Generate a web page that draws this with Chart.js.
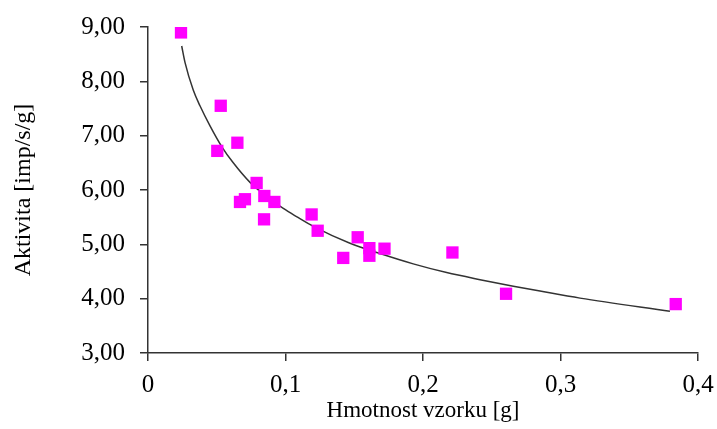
<!DOCTYPE html>
<html>
<head>
<meta charset="utf-8">
<script src="https://cdn.jsdelivr.net/npm/chart.js@4.4.0/dist/chart.umd.min.js"></script>
<style>
  html, body { margin: 0; padding: 0; background: #fff; }
  #wrap { width: 717px; height: 429px; }
</style>
</head>
<body>
<div id="wrap"><canvas id="chart" width="717" height="429"></canvas></div>
<script>
// measured samples: mass [g] vs activity [imp/s/g]
const massG = [0.024, 0.0529, 0.0504, 0.065, 0.079, 0.0669, 0.0705, 0.0846, 0.0919, 0.0844,
  0.119, 0.1234, 0.142, 0.1525, 0.161, 0.161, 0.172, 0.2214, 0.2604, 0.3838];
const activity = [8.90, 7.55, 6.72, 6.87, 6.13, 5.78, 5.83, 5.89, 5.78, 5.46,
  5.55, 5.25, 4.75, 5.13, 4.93, 4.79, 4.92, 4.85, 4.09, 3.90];

// trend curve
const trendX = [0.0245, 0.0269, 0.0329, 0.0378, 0.0451, 0.0536, 0.0620, 0.0742, 0.0863, 0.0984,
  0.1080, 0.1202, 0.1469, 0.1687, 0.1929, 0.2172, 0.2415, 0.2657, 0.2851, 0.3142, 0.3796];
const trendY = [8.65, 8.35, 7.84, 7.55, 7.18, 6.80, 6.50, 6.14, 5.88, 5.66,
  5.51, 5.33, 5.02, 4.83, 4.64, 4.48, 4.35, 4.23, 4.14, 4.01, 3.77];

const xTickLabels = ['0', '0,1', '0,2', '0,3', '0,4'];
const yTickLabels = ['3,00', '4,00', '5,00', '6,00', '7,00', '8,00', '9,00'];

const FONT = 'Liberation Serif, Times New Roman, serif';
const AXIS = '#333';

const points = massG.map((x, i) => ({ x, y: activity[i] }));
const trend = trendX.map((x, i) => ({ x, y: trendY[i] }));

// keep the plot box fixed, labels may hang over the padding
function fixBox(size) {
  return s => {
    if (s.isHorizontal()) s.height = size; else s.width = size;
    s.paddingLeft = s.paddingRight = s.paddingTop = s.paddingBottom = 0;
  };
}

new Chart(document.getElementById('chart'), {
  type: 'scatter',
  data: {
    datasets: [
      {
        label: 'trend',
        data: trend,
        showLine: true,
        borderColor: '#333',
        borderWidth: 1.5,
        pointRadius: 0,
        cubicInterpolationMode: 'monotone',
        order: 2
      },
      {
        label: 'vzorky',
        data: points,
        pointStyle: 'rect',
        pointRadius: 8.7,
        pointBorderWidth: 0,
        backgroundColor: '#ff00ff',
        borderColor: '#ff00ff',
        order: 1
      }
    ]
  },
  options: {
    responsive: false,
    animation: false,
    layout: { padding: { top: 27, right: 19, left: 0, bottom: 0 } },
    plugins: { legend: { display: false }, tooltip: { enabled: false } },
    scales: {
      x: {
        type: 'linear',
        min: 0,
        max: 0.4,
        afterFit: fixBox(76),
        ticks: {
          stepSize: 0.1,
          color: '#000',
          padding: 9,
          maxRotation: 0,
          font: { family: FONT, size: 25 },
          callback: (v, i) => xTickLabels[i]
        },
        grid: { drawOnChartArea: false, drawTicks: true, tickLength: 8, color: AXIS, lineWidth: 1.5 },
        border: { color: AXIS, width: 1.5 },
        title: {
          display: true,
          text: 'Hmotnost vzorku [g]',
          color: '#000',
          font: { family: FONT, size: 23 },
          padding: { top: 0, bottom: 4 }
        }
      },
      y: {
        min: 3,
        max: 9,
        afterFit: fixBox(148),
        ticks: {
          stepSize: 1,
          color: '#000',
          padding: 15,
          font: { family: FONT, size: 25 },
          callback: (v, i) => yTickLabels[i]
        },
        grid: { drawOnChartArea: false, drawTicks: true, tickLength: 8, color: AXIS, lineWidth: 1.5 },
        border: { color: AXIS, width: 1.5 },
        title: {
          display: true,
          text: 'Aktivita [imp/s/g]',
          color: '#000',
          font: { family: FONT, size: 24 },
          padding: { top: 9, bottom: 0 }
        }
      }
    }
  }
});
</script>
</body>
</html>
